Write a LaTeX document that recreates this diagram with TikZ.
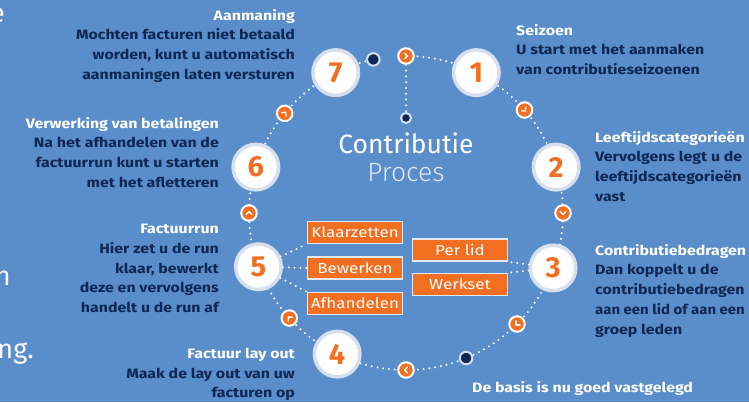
\documentclass[tikz,border=0pt]{standalone}
\usepackage{fontspec}
\setmainfont{Fira Sans}
\newfontfamily\widefont{Fira Sans}[FakeStretch=1.17]
\newfontfamily\narrowfont{Fira Sans}[FakeStretch=1.1]
\newfontfamily\lightfont{Fira Sans Light}
\usetikzlibrary{positioning}
\usepackage{xcolor}

\definecolor{bgblue}{HTML}{5A8ECB}
\definecolor{procorange}{HTML}{F26F21}
\definecolor{darknavy}{HTML}{0F2754}
\definecolor{ringgrey}{HTML}{D6DFEF}
\definecolor{boxedge}{HTML}{E2E9F4}
\definecolor{palewhite}{HTML}{E2EAF6}

\newcommand{\headln}[1]{\textcolor{white}{#1}}

\tikzset{
  chev/.pic={\draw[white, line width=1.4pt, line cap=round, line join=round]
    (-1.4,2.8) -- (1.4,0) -- (-1.4,-2.8);}
}

\begin{document}
\begin{tikzpicture}[x=1pt,y=1pt,
    stepnum/.style={circle, draw=ringgrey, line width=3.5pt, fill=white,
      minimum size=45.5pt, inner sep=0pt, text=procorange,
      font=\fontsize{29}{29}\selectfont\bfseries},
    turnmark/.style={circle, draw=white, line width=2pt, fill=procorange,
      minimum size=15.5pt, inner sep=0pt},
    enddot/.style={circle, draw=ringgrey, line width=2pt, fill=darknavy,
      minimum size=12.5pt, inner sep=0pt},
    dotline/.style={draw=white, line width=2.2pt, line cap=round,
      dash pattern=on 0pt off 5.8pt},
    taskbox/.style={draw=boxedge, line width=1.5pt, fill=procorange, text=white,
      minimum width=95pt, minimum height=22pt, inner sep=0pt,
      font=\widefont\fontsize{14.5}{14.5}\selectfont},
    infoleft/.style={align=left, anchor=north west, inner sep=0pt, text=darknavy,
      font=\widefont\fontsize{13.6}{19.7}\selectfont\bfseries},
    inforight/.style={infoleft, align=right, anchor=north east},
    fragtxt/.style={anchor=base east, inner sep=0pt, text=white,
      font=\fontsize{27}{27}\selectfont},
  ]
  \useasboundingbox (0,0) rectangle (749,402);
  \clip (0,0) rectangle (749,402);
  \fill[bgblue] (0,0) rectangle (749,402);

  % the ring
  \coordinate (ctr) at (406,189);
  \draw[dotline] (ctr) ++(90:157) arc[start angle=90, end angle=-258, radius=157];

  % steps
  \begin{scope}[shift={(ctr)}]
    \foreach \ang/\num in {63.4/1, 17/2, -20.5/3, 244/4, 200/5, 163/6, 116.6/7}
      \node[stepnum] (s\num) at (\ang:157) {\num};
    \foreach \ang [count=\i] in {90, 41, 0, -45, -90, 222, 180, 140.6} {
      \node[turnmark] (a\i) at (\ang:157) {};
      \pic[rotate=\ang-90] at (a\i) {chev};
    }
    \node[enddot] (d1) at (102:157) {};
    \node[enddot] (d2) at (-67.5:157) {};
    \node[enddot, minimum size=10pt] (dc) at (0,95) {};
  \end{scope}
  \draw[dotline] (a1) -- (dc);

  % title
  \node[anchor=base, inner sep=0pt, text=white, font=\fontsize{26.5}{26.5}\selectfont]
    (ttl) at (406,248) {Contributie};
  \node[inner sep=0pt, text=palewhite, font=\lightfont\fontsize{26.5}{26.5}\selectfont]
    (sub) [below=9pt of ttl] {Proces};

  % sub tasks
  \node[taskbox] (bew) at (355,134) {Bewerken};
  \node[taskbox] (klaar) [above=12pt of bew] {Klaarzetten};
  \node[taskbox] (afh) [below=12pt of bew] {Afhandelen};
  \node[taskbox] (perlid) at (460,152) {Per lid};
  \node[taskbox] (werk) [below=11pt of perlid] {Werkset};

  \path[dotline]
  (s5) edge (klaar.south west)
  (s5) edge (bew.west)
  (s5) edge (afh.north west)
  (s3) edge (perlid.south east)
  (s3) edge (werk.north east);

  % texts
  \node[inforight] (t7) at (295,393) {\headln{Aanmaning}\\Mochten facturen niet betaald\\worden, kunt u automatisch\\aanmaningen laten versturen};
  \node[infoleft] (t1) at (516,378) {\headln{Seizoen}\\U start met het aanmaken\\van contributieseizoenen};
  \node[infoleft] (t2) at (595,271) {\headln{Leeftijdscategorieën}\\Vervolgens legt u de\\leeftijdscategorieën\\vast};
  \node[infoleft] (t3) at (595,158) {\headln{Contributiebedragen}\\Dan koppelt u de\\contributiebedragen\\{\narrowfont\bfseries aan een lid of aan een}\\groep leden};
  \node[inforight] (t6) at (219,285) {\headln{Verwerking van betalingen}\\Na het afhandelen van de\\factuurrun kunt u starten\\met het afletteren};
  \node[inforight] (t5) at (219,178) {\headln{Factuurrun}\\Hier zet u de run\\klaar, bewerkt\\deze en vervolgens\\handelt u de run af};
  \node[inforight] (t4) at (295,54) {\headln{Factuur lay out}\\Maak de lay out van uw\\facturen op};
  \node[infoleft, text=white] (tb) at (472,21) {De basis is nu goed vastgelegd};

  % cut-off words at the left edge
  \node[fragtxt] (f1) at (5,379) {e};
  \node[fragtxt] (f2) at (11,117) {n};
  \node[fragtxt] (f3) at (34,44) {ng.};
\end{tikzpicture}
\end{document}
